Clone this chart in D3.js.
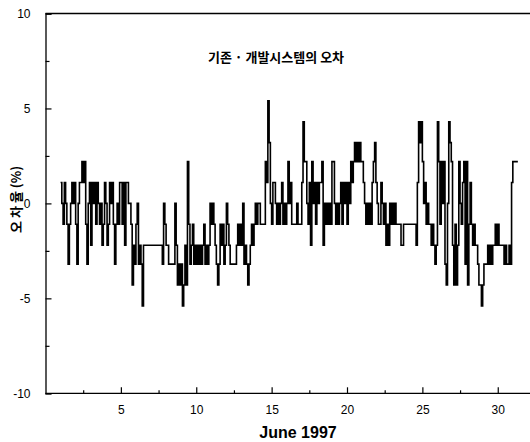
<!DOCTYPE html>
<html>
<head>
<meta charset="utf-8">
<script src="https://cdn.jsdelivr.net/npm/d3@7"></script>
<style>
  html, body { margin: 0; padding: 0; background: #fff; }
  svg { display: block; }
</style>
</head>
<body>
<svg id="chart" width="530" height="442"></svg>
<script>
// ---- data (2-hour samples starting June 1, 00:00; values in %) ----
const startDay = 1;
const stepDays = 1 / 12;
const errorPct = [
  // June 1
  1.1, 0, -1.1, 1.1, 0, -1.1, -3.2, -1.1, 0, 1.1, 0, 1.1,
  // June 2
  -1.1, -3.2, 0, 1.1, 1.1, 2.2, 1.1, 2.2, -1.1, -3.2, 0, 1.1,
  // June 3
  -2.2, 1.1, 0, 1.1, -1.1, 1.1, 0, -1.1, 0, -2.2, -1.1, 1.1,
  // June 4
  0, -2.2, -1.1, 1.1, 0, 1.1, -1.1, -3.2, -1.1, 0, -1.1, 1.1,
  // June 5
  1.1, -1.1, 1.1, -2.2, 1.1, 1.1, 0, 0, -1.1, -4.3, -2.2, -3.2,
  // June 6
  -1.1, 0, -3.2, -2.2, -3.2, -5.4, -2.2, -2.2, -2.2, -2.2, -2.2, -2.2,
  // June 7
  -2.2, -2.2, -2.2, -2.2, -2.2, -2.2, -2.2, -2.2, -2.2, -3.2, 0, -1.1,
  // June 8
  -2.2, -2.2, -3.2, -3.2, -3.2, -3.2, -3.2, 0, -2.2, -4.3, -3.2, -4.3,
  // June 9
  -3.2, -5.4, -4.3, -2.2, -4.3, 2.2, -1.1, -3.2, -2.2, -1.1, -3.2, -2.2,
  // June 10
  -3.2, -2.2, -3.2, -2.2, -3.2, -2.2, -1.1, -3.2, -2.2, -3.2, -2.2, 0,
  // June 11
  -1.1, 0, -1.1, -2.2, -3.2, -4.3, -3.2, -1.1, -2.2, -1.1, -3.2, -2.2,
  // June 12
  0, -1.1, -2.2, -3.2, -3.2, -3.2, -3.2, -3.2, -2.2, -1.1, -2.2, -1.1,
  // June 13
  -2.2, 0, -3.2, -2.2, -3.2, -4.3, -3.2, -2.2, -1.1, -2.2, -1.1, 0,
  // June 14
  -1.1, 0, 0, -1.1, -1.1, -1.1, -1.1, 2.2, 1.1, 5.4, 3.2, 0,
  // June 15
  -1.1, 1.1, 1.1, 0, -1.1, 0, -1.1, 0, 1.1, -1.1, 0, -1.1,
  // June 16
  0, 2.2, 0, 1.1, -1.1, -1.1, -1.1, -1.1, 0, -1.1, -1.1, -1.1,
  // June 17
  1.1, 4.3, 2.2, 2.2, 0, -1.1, 1.1, -2.2, 2.2, 0, 1.1, -1.1,
  // June 18
  1.1, 0, 1.1, 1.1, 2.2, -2.2, 0, -1.1, 0, -1.1, 0, -1.1,
  // June 19
  2.2, 2.2, 0, -1.1, 0, -1.1, 0, 1.1, -1.1, 1.1, 0, 1.1,
  // June 20
  -1.1, 1.1, 0, 2.2, 1.1, 2.2, 3.2, 2.2, 3.2, 2.2, 3.2, 2.2,
  // June 21
  2.2, 1.1, 0, -1.1, 0, -1.1, 0, -1.1, 1.1, 2.2, 3.2, 1.1,
  // June 22
  0, -1.1, -1.1, 1.1, 0, -1.1, 0, -2.2, -1.1, -2.2, 0, -1.1,
  // June 23
  0, -1.1, 0, -1.1, -1.1, -1.1, -1.1, -2.2, -2.2, -1.1, -1.1, -1.1,
  // June 24
  -1.1, -1.1, -1.1, -1.1, -1.1, -1.1, -1.1, -2.2, 1.1, 4.3, 3.2, 4.3,
  // June 25
  2.2, 0, 1.1, -1.1, 0, -1.1, -1.1, -2.2, -1.1, -2.2, -3.2, -2.2,
  // June 26
  4.3, 2.2, -1.1, 2.2, 0, 2.2, -3.2, -4.3, 0, 4.3, 3.2, 2.2,
  // June 27
  -2.2, -4.3, -1.1, -4.3, -2.2, 2.2, 0, -1.1, 1.1, 2.2, -3.2, 2.2,
  // June 28
  -4.3, -1.1, 1.1, -1.1, -2.2, -1.1, -2.2, -2.2, -3.2, -4.3, -4.3, -5.4,
  // June 29
  -4.3, -3.2, -3.2, -3.2, -2.2, -3.2, -2.2, -3.2, -2.2, -2.2, -1.1, -2.2,
  // June 30
  -1.1, -2.2, -2.2, -2.2, -2.2, -3.2, -2.2, -3.2, -3.2, -2.2, -3.2, 1.1,
  // July 1 (start)
  2.2, 2.2, 2.2, 2.2, 2.2
];
const xMajorTicks = [5, 10, 15, 20, 25, 30];
const xMinorTicks = [2.5, 7.5, 12.5, 17.5, 22.5, 27.5];
const yMajorTicks = [-10, -5, 0, 5, 10];
const yMinorTicks = [-7.5, -2.5, 2.5, 7.5];
const titleText = "기존 · 개발시스템의 오차";
const xLabel = "June 1997";
const yLabel = "오 차 율 (%)";

// ---- layout ----
const svg = d3.select("#chart");
const mLeft = 45.5, mRight = 527.9, mTop = 13.5, mBottom = 393.3;
const x = d3.scaleLinear().domain([0, 32]).range([mLeft, mRight]);
const y = d3.scaleLinear().domain([-10, 10]).range([mBottom, mTop]);
const plainFmt = d => String(d);

const points = errorPct.map((v, i) => ({ t: startDay + i * stepDays, v }));

// top frame line
svg.append("line").attr("x1", mLeft).attr("x2", 530).attr("y1", mTop).attr("y2", mTop)
  .attr("stroke", "#000").attr("stroke-width", 1.3);

// x axis (ticks inward)
const xAxis = svg.append("g").attr("transform", `translate(0,${mBottom})`)
  .call(d3.axisBottom(x).tickValues(xMajorTicks).tickSize(-6).tickPadding(12).tickFormat(plainFmt));
svg.append("g").attr("transform", `translate(0,${mBottom})`)
  .call(d3.axisBottom(x).tickValues(xMinorTicks).tickSize(-3).tickFormat(""))
  .call(g => g.select(".domain").remove());
xAxis.select(".domain").attr("d", `M${mLeft},0H530`);

// y axis (ticks inward)
const yAxis = svg.append("g").attr("transform", `translate(${mLeft},0)`)
  .call(d3.axisLeft(y).tickValues(yMajorTicks).tickSize(-6).tickPadding(15).tickFormat(plainFmt));
svg.append("g").attr("transform", `translate(${mLeft},0)`)
  .call(d3.axisLeft(y).tickValues(yMinorTicks).tickSize(-4).tickFormat(""))
  .call(g => g.select(".domain").remove());

svg.selectAll(".domain").attr("stroke", "#000").attr("stroke-width", 1.3);
svg.selectAll(".tick line").attr("stroke", "#000").attr("stroke-width", 1.2);
svg.selectAll(".tick text")
  .attr("font-family", "'Liberation Sans', Arial, sans-serif")
  .attr("font-size", 12).attr("fill", "#000");

// series
const line = d3.line().x(d => x(d.t)).y(d => y(d.v)).curve(d3.curveStepAfter);
svg.append("path").datum(points)
  .attr("d", line)
  .attr("fill", "none")
  .attr("stroke", "#000")
  .attr("stroke-width", 1.6)
  .attr("stroke-linejoin", "miter");

// title
svg.append("text")
  .attr("x", 276).attr("y", 62)
  .attr("text-anchor", "middle")
  .attr("font-family", "'Noto Sans CJK KR', sans-serif")
  .attr("font-weight", "bold").attr("font-size", 13)
  .text(titleText);

// x label
svg.append("text")
  .attr("x", 298).attr("y", 438)
  .attr("text-anchor", "middle")
  .attr("font-family", "'Liberation Sans', Arial, sans-serif")
  .attr("font-weight", "bold").attr("font-size", 16)
  .text(xLabel);

// y label
svg.append("text")
  .attr("transform", `translate(21,${y(0) - 4}) rotate(-90)`)
  .attr("text-anchor", "middle")
  .attr("font-family", "'Noto Sans CJK KR', sans-serif")
  .attr("font-weight", "bold").attr("font-size", 13)
  .text(yLabel);
</script>
</body>
</html>
